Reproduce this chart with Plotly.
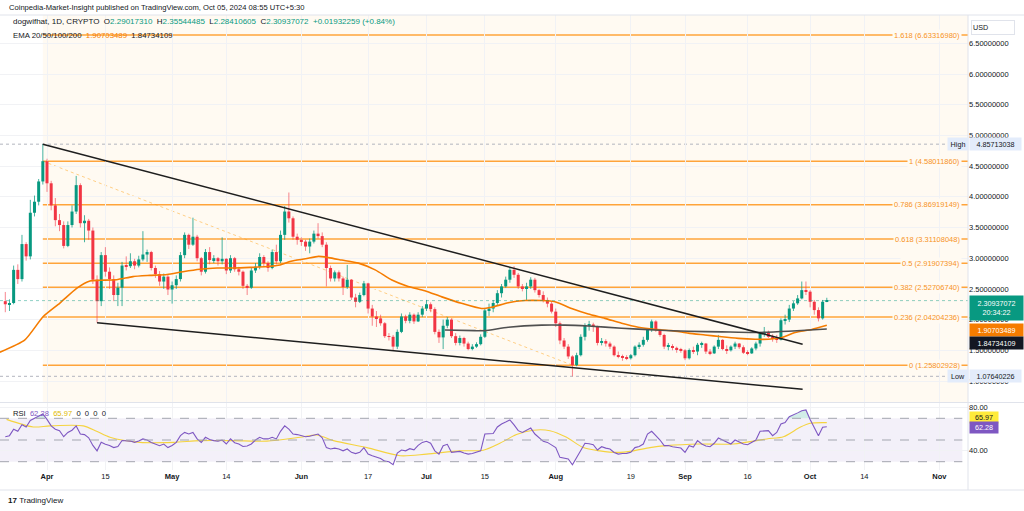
import pandas as pd
import plotly.graph_objects as go

# ---------------- data ----------------
BASE = pd.Timestamp("2024-04-01")
first_day = -10          # first candle = 2024-03-22
first_open = 2.30

closes = [
    2.25, 2.27, 2.81, 2.66, 3.23, 3.03, 3.74, 3.92, 4.25, 4.58,
    4.22, 3.86, 3.62, 3.54, 3.20, 3.54, 3.76, 4.19, 3.57, 3.61,
    3.45, 2.65, 2.30, 3.05, 2.78, 2.66, 2.40, 2.52, 2.88, 2.87,
    2.95, 2.88, 2.98, 3.06, 3.10, 2.84, 2.74, 2.62, 2.70, 2.49,
    2.56, 2.66, 3.05, 3.38, 3.22, 3.35, 3.00, 2.78, 3.10, 2.97,
    3.00, 2.95, 2.99, 2.80, 3.00, 2.82, 2.78, 2.55, 2.52, 2.80,
    2.86, 3.02, 2.92, 2.84, 3.10, 2.95, 3.38, 3.76, 3.65, 3.35,
    3.30, 3.27, 3.19, 3.27, 3.40, 3.36, 3.22, 2.84, 2.67, 2.77,
    2.67, 2.53, 2.65, 2.36, 2.29, 2.40, 2.59, 2.18, 2.05, 2.02,
    1.94, 1.73, 1.72, 1.56, 1.80, 2.05, 1.98, 2.08, 1.97, 2.08,
    2.18, 2.25, 2.17, 1.80, 1.71, 1.90, 2.00, 1.73, 1.62, 1.70,
    1.61, 1.52, 1.56, 1.60, 1.72, 2.15, 2.18, 2.27, 2.43, 2.54,
    2.65, 2.81, 2.73, 2.54, 2.51, 2.54, 2.65, 2.48, 2.40, 2.32,
    2.26, 2.13, 1.94, 1.66, 1.56, 1.40, 1.258, 1.42, 1.72, 1.91,
    1.92, 1.88, 1.62, 1.65, 1.61, 1.56, 1.42, 1.40, 1.39, 1.37,
    1.42, 1.56, 1.59, 1.67, 1.83, 1.97, 1.83, 1.75, 1.56, 1.57,
    1.54, 1.51, 1.50, 1.37, 1.505, 1.48, 1.59, 1.61, 1.48, 1.45,
    1.56, 1.67, 1.52, 1.50, 1.56, 1.61, 1.55, 1.46, 1.45, 1.53,
    1.61, 1.776, 1.80, 1.72, 1.695, 1.67, 1.99, 2.00, 2.18, 2.265,
    2.345, 2.48, 2.455, 2.29, 2.155, 2.02, 2.29017310, 2.30937072,
]
highs = [
    2.45, 2.33, 2.88, 2.90, 3.38, 3.26, 3.95, 4.02, 4.29, 4.85713038,
    4.62, 4.26, 3.98, 3.72, 3.60, 3.60, 3.86, 4.34, 4.22, 3.70,
    3.64, 3.50, 2.72, 3.10, 3.18, 2.85, 2.72, 2.60, 2.94, 3.03,
    3.08, 2.99, 3.04, 3.44, 3.14, 3.12, 2.88, 2.79, 2.75, 2.73,
    2.62, 2.72, 3.10, 3.42, 3.40, 3.66, 3.38, 3.02, 3.15, 3.18,
    3.05, 3.02, 3.34, 3.00, 3.05, 3.02, 2.86, 2.80, 2.58, 2.84,
    2.92, 3.08, 3.05, 2.95, 3.14, 3.22, 3.45, 3.85, 4.07, 3.68,
    3.40, 3.34, 3.30, 3.32, 3.45, 3.57, 3.42, 3.26, 2.88, 2.80,
    2.80, 2.70, 2.89, 2.66, 2.42, 2.44, 2.63, 2.60, 2.24, 2.14,
    2.08, 1.96, 1.78, 1.75, 1.84, 2.10, 2.08, 2.12, 2.10, 2.12,
    2.22, 2.32, 2.28, 2.20, 1.84, 2.00, 2.04, 2.02, 1.78, 1.74,
    1.72, 1.64, 1.60, 1.63, 1.76, 2.18, 2.26, 2.32, 2.48, 2.58,
    2.70, 2.84, 2.87, 2.76, 2.58, 2.60, 2.69, 2.68, 2.50, 2.46,
    2.36, 2.30, 2.18, 1.97, 1.70, 1.60, 1.42, 1.46, 1.76, 1.94,
    1.98, 1.95, 1.90, 1.70, 1.68, 1.64, 1.58, 1.48, 1.43, 1.42,
    1.44, 1.58, 1.63, 1.72, 1.85, 2.00, 1.99, 1.85, 1.77, 1.62,
    1.60, 1.56, 1.54, 1.52, 1.53, 1.56, 1.62, 1.64, 1.62, 1.52,
    1.58, 1.75, 1.68, 1.58, 1.58, 1.64, 1.62, 1.58, 1.50, 1.55,
    1.64, 1.80, 1.88, 1.82, 1.76, 1.75, 2.02, 2.08, 2.24, 2.30,
    2.40, 2.62, 2.62, 2.48, 2.32, 2.20, 2.32, 2.35544485,
]
lows = [
    2.12, 2.14, 2.25, 2.58, 2.62, 2.96, 2.98, 3.68, 3.86, 4.20,
    4.08, 3.78, 3.52, 3.44, 3.16, 3.18, 3.50, 3.72, 3.50, 3.26,
    3.30, 2.58, 1.95, 2.22, 2.70, 2.50, 2.30, 2.22, 2.22, 2.80,
    2.84, 2.82, 2.85, 2.95, 2.94, 2.80, 2.68, 2.55, 2.50, 2.40,
    2.26, 2.50, 2.62, 3.00, 3.15, 3.20, 2.95, 2.72, 2.75, 2.90,
    2.92, 2.88, 2.90, 2.74, 2.76, 2.78, 2.72, 2.50, 2.40, 2.50,
    2.76, 2.82, 2.86, 2.78, 2.82, 2.90, 2.92, 3.30, 3.58, 3.30,
    3.22, 3.20, 3.12, 3.08, 3.24, 3.32, 3.18, 2.54, 2.62, 2.62,
    2.62, 2.40, 2.50, 2.32, 2.20, 2.27, 2.38, 2.10, 1.90, 1.88,
    1.90, 1.70, 1.66, 1.50, 1.52, 1.78, 1.94, 1.94, 1.93, 1.96,
    2.04, 2.14, 2.12, 1.76, 1.62, 1.52, 1.86, 1.70, 1.58, 1.58,
    1.56, 1.50, 1.50, 1.54, 1.58, 1.70, 2.06, 2.12, 2.24, 2.36,
    2.52, 2.60, 2.68, 2.50, 2.46, 2.32, 2.50, 2.44, 2.36, 2.28,
    2.20, 2.10, 1.88, 1.60, 1.52, 1.36, 1.07640226, 1.24, 1.40, 1.66,
    1.82, 1.80, 1.58, 1.58, 1.56, 1.52, 1.40, 1.37, 1.33, 1.34,
    1.35, 1.40, 1.52, 1.56, 1.64, 1.80, 1.80, 1.72, 1.52, 1.50,
    1.50, 1.46, 1.46, 1.34, 1.35, 1.44, 1.42, 1.54, 1.44, 1.42,
    1.44, 1.52, 1.50, 1.44, 1.48, 1.52, 1.52, 1.44, 1.42, 1.44,
    1.50, 1.56, 1.72, 1.70, 1.64, 1.62, 1.66, 1.92, 1.96, 2.14,
    2.24, 2.33, 2.40, 2.20, 2.08, 1.97, 2.00, 2.28410605,
]
rsi = [
    53, 54, 60, 58, 64, 62, 68, 70, 72, 74,
    69, 63, 60, 58.5, 53, 57, 59, 63, 55.5, 55,
    52, 45, 40, 48, 46, 45, 43, 44, 49.5, 49.5,
    49, 47.8, 49, 51, 50, 47.8, 46, 44.8, 46.3, 43,
    45, 47.8, 54, 57, 55.5, 57, 51, 47.8, 52.5, 50.5,
    49.4, 49, 50, 46.3, 51, 47.5, 46.3, 44, 44.5, 46.3,
    50, 52.5, 51, 51, 52.5, 51, 58, 63, 60, 55.5,
    55, 54, 53, 53.5, 54.5, 55.5, 52, 43, 41.7, 42.5,
    41.7, 40, 41.7, 38.6, 37.5, 38.6, 43, 37, 35.5, 34,
    33, 30.5, 30, 27.2, 38, 40.8, 40, 42, 41, 45,
    47.8, 48.8, 47, 40, 37, 44.8, 46, 38.6, 39, 39.5,
    38, 37, 37.5, 38.5, 40, 55.5, 55.7, 56, 62, 64.8,
    66.5, 68.5, 64, 58.6, 57, 59, 61, 55.5, 52, 48.8,
    47.8, 45, 43, 34, 33, 32.5, 27.2, 34, 41, 47,
    46.5, 45.7, 40.8, 43.8, 42.5, 41.7, 38.5, 37, 37.5, 37.7,
    38.6, 43, 44, 46.3, 55.5, 58, 54, 50, 44.8, 45,
    43.8, 43, 42.6, 38.6, 44.8, 43.5, 49.4, 46.3, 44.5, 43.8,
    47, 51.8, 50, 48, 46.3, 50, 48, 46.3, 45.7, 47.8,
    50, 58, 58.3, 58.6, 54, 57, 64.8, 66, 71.5, 73,
    75, 77, 77.7, 69, 62, 54, 61.7, 62.28,
]
# RSI-based MA (read at sample days, day offsets from 2024-04-01)
rsima_days = [-9.7, -3.3, 0.7, 8.7, 11.9, 15.1, 22.3, 30.3, 36.7, 44.7, 52.7, 60.7,
              64.7, 68.7, 76.7, 84.7, 91, 99, 104.6, 108.6, 112.6, 116.6, 120.6,
              124.6, 128.6, 132.6, 136.6, 140.6, 144.6, 148.6, 156.6, 164.6, 172.6,
              176.6, 180.6, 183, 187]
rsima_vals = [69, 62, 63, 63, 58, 52.5, 47.8, 47.8, 49.4, 49.4, 49, 52.5,
              54.6, 49.4, 43, 35.5, 37, 40, 40.6, 47, 55, 59, 58.6,
              52.5, 43, 40, 38.6, 40, 43, 44.8, 46.3, 46.3, 51,
              53, 61.7, 65.4, 65.97]
# EMA lines (read at sample days)
ema_a_days = [-11.3, -5.3, -0.9, 3.1, 7.1, 10.3, 12.7, 16.7, 20.6, 24.7, 28.8, 32.6,
              36.7, 40.8, 44.6, 48.7, 52.8, 55.9, 58.5, 62, 65.1, 67.5, 70.7, 74.7,
              78.7, 82.7, 86.6, 90.6, 94.7, 99.4, 104.2, 106.6, 110.6, 114.6, 118.6,
              121.8, 125.8, 129.8, 133.8, 137.8, 141.8, 145.8, 149.8, 153.8, 157.8,
              161.8, 165.8, 169.8, 173, 176.2, 179.4, 183.4, 187]
ema_a_vals = [1.47, 1.67, 2.05, 2.27, 2.51, 2.63, 2.64, 2.65, 2.70, 2.72, 2.735, 2.78,
              2.82, 2.84, 2.84, 2.85, 2.865, 2.89, 2.95, 2.99, 3.03, 3.01, 2.97, 2.92,
              2.81, 2.645, 2.54, 2.47, 2.37, 2.265, 2.18, 2.20, 2.275, 2.31, 2.31,
              2.29, 2.18, 2.09, 2.02, 1.94, 1.875, 1.84, 1.82, 1.78, 1.75,
              1.72, 1.695, 1.68, 1.68, 1.71, 1.79, 1.84, 1.90703489]
ema_b_days = [95.4, 102.6, 105, 110.6, 118.6, 124.2, 129.8, 137.8, 145.8, 153.8,
              161.8, 169.8, 177.8, 187]
ema_b_vals = [1.83, 1.82, 1.82, 1.875, 1.91, 1.91, 1.895, 1.86, 1.83, 1.81,
              1.80, 1.79, 1.81, 1.84734109]

fib_ratios = ["1.618", "1", "0.786", "0.618", "0.5", "0.382", "0.236", "0"]
fib_prices = [6.63316980, 4.58011860, 3.86919149, 3.31108048, 2.91907394,
              2.52706740, 2.04204236, 1.25802928]
fib_start_day = -1            # Mar 31
fib_trend = [(-1, 4.58011860), (126, 1.25802928)]
channel_upper = [(-1, 4.85713038), (181.2, 1.598)]
channel_lower = [(12, 1.95), (181.2, 0.865)]
high_price, low_price = 4.85713038, 1.07640226
last_close, ema_a_last, ema_b_last = 2.30937072, 1.90703489, 1.84734109
rsi_last, rsima_last = 62.28, 65.97

price_ticks = [1.0, 1.5, 2.0, 2.5, 3.0, 3.5, 4.0, 4.5, 5.0, 5.5, 6.0, 6.5]
date_ticks = ["2024-04-01", "2024-04-15", "2024-05-01", "2024-05-14", "2024-06-01",
              "2024-06-17", "2024-07-01", "2024-07-15", "2024-08-01", "2024-08-19",
              "2024-09-01", "2024-09-16", "2024-10-01", "2024-10-14", "2024-11-01"]
date_labels = ["<b>Apr</b>", "15", "<b>May</b>", "14", "<b>Jun</b>", "17", "<b>Jul</b>",
               "15", "<b>Aug</b>", "19", "<b>Sep</b>", "16", "<b>Oct</b>", "14", "<b>Nov</b>"]

# ---------------- helpers ----------------
def day(d):
    return BASE + pd.Timedelta(days=d)

W_PLOT, TOP, BOT = 968, 15, 470
H_PLOT = BOT - TOP
def px_x(px):
    return px / W_PLOT
def px_y(py):
    return (BOT - py) / H_PLOT

dates = [day(first_day + i) for i in range(len(closes))]
opens = [first_open] + closes[:-1]

FONT = "Liberation Sans"
TXT = "#131722"
GREEN, RED = "#089981", "#f23645"
ORANGE_FIB = "#ffa43a"
EMA_ORANGE = "#f57c00"
CREAM = "#fffaf2"
PURPLE, YELLOW = "#7e57c2", "#f5d33f"

fig = go.Figure()

# candles: wicks + bodies, split by direction
for up, col, wick_col in ((True, GREEN, "rgba(8,153,129,0.75)"), (False, RED, "rgba(242,54,69,0.6)")):
    idx = [i for i in range(len(closes)) if (closes[i] >= opens[i]) == up]
    wx, wy = [], []
    for i in idx:
        wx += [dates[i], dates[i], None]
        wy += [lows[i], highs[i], None]
    fig.add_trace(go.Scatter(x=wx, y=wy, mode="lines", line=dict(color=wick_col, width=1),
                             showlegend=False, hoverinfo="skip", xaxis="x", yaxis="y"))
    fig.add_trace(go.Bar(x=[dates[i] for i in idx],
                         y=[max(abs(closes[i] - opens[i]), 0.012) for i in idx],
                         base=[min(opens[i], closes[i]) for i in idx],
                         width=0.72 * 86400000, marker=dict(color=col, line=dict(width=0)),
                         showlegend=False, hoverinfo="skip", xaxis="x", yaxis="y"))

fig.add_trace(go.Scatter(x=[day(d) for d in ema_a_days], y=ema_a_vals, mode="lines",
                         line=dict(color=EMA_ORANGE, width=1.6, shape="spline", smoothing=0.6),
                         showlegend=False, hoverinfo="skip", xaxis="x", yaxis="y"))
fig.add_trace(go.Scatter(x=[day(d) for d in ema_b_days], y=ema_b_vals, mode="lines",
                         line=dict(color="#505050", width=1.6, shape="spline", smoothing=0.6),
                         showlegend=False, hoverinfo="skip", xaxis="x", yaxis="y"))

# RSI pane
fig.add_trace(go.Scatter(x=dates, y=[70] * len(rsi), mode="lines", line=dict(width=0),
                         showlegend=False, hoverinfo="skip", xaxis="x2", yaxis="y2"))
fig.add_trace(go.Scatter(x=dates, y=[max(v, 70) for v in rsi], mode="lines", line=dict(width=0),
                         fill="tonexty", fillcolor="rgba(8,153,129,0.18)",
                         showlegend=False, hoverinfo="skip", xaxis="x2", yaxis="y2"))
fig.add_trace(go.Scatter(x=[day(d) for d in rsima_days], y=rsima_vals, mode="lines",
                         line=dict(color=YELLOW, width=1.1, shape="spline", smoothing=0.8),
                         showlegend=False, hoverinfo="skip", xaxis="x2", yaxis="y2"))
fig.add_trace(go.Scatter(x=dates, y=rsi, mode="lines", line=dict(color=PURPLE, width=1.1),
                         showlegend=False, hoverinfo="skip", xaxis="x2", yaxis="y2"))

shapes = []
x_left, x_right = day(-11.27), day(220.86)
# fib background
shapes.append(dict(type="rect", xref="x", yref="paper", x0=day(fib_start_day), x1=day(230),
                   y0=px_y(402), y1=1, fillcolor=CREAM, line=dict(width=0), layer="below"))
# RSI band
shapes.append(dict(type="rect", xref="x2", yref="y2", x0=x_left, x1=day(219.5), y0=30, y1=70,
                   fillcolor="rgba(126,87,194,0.09)", line=dict(width=0), layer="below"))
for lv in (70, 50, 30):
    shapes.append(dict(type="line", xref="x2", yref="y2", x0=x_left, x1=day(219.5), y0=lv, y1=lv,
                       line=dict(color="#a3a6af", width=1, dash="dash")))
# fib levels
for p in fib_prices:
    shapes.append(dict(type="line", xref="x", yref="y", x0=day(fib_start_day), x1=day(230),
                       y0=p, y1=p, line=dict(color=ORANGE_FIB, width=1.5), layer="below"))
# fib trend line (dotted)
shapes.append(dict(type="line", xref="x", yref="y", x0=day(fib_trend[0][0]), y0=fib_trend[0][1],
                   x1=day(fib_trend[1][0]), y1=fib_trend[1][1],
                   line=dict(color="rgba(255,152,0,0.45)", width=1, dash="dot"), layer="below"))
# high / low / last price lines
for p in (high_price, low_price):
    shapes.append(dict(type="line", xref="x", yref="y", x0=x_left, x1=day(215.5), y0=p, y1=p,
                       line=dict(color="#b2b5be", width=1, dash="dot"), layer="below"))
shapes.append(dict(type="line", xref="x", yref="y", x0=x_left, x1=x_right, y0=last_close,
                   y1=last_close, line=dict(color="rgba(8,153,129,0.45)", width=1, dash="dot")))
# channel
for ln in (channel_upper, channel_lower):
    shapes.append(dict(type="line", xref="x", yref="y", x0=day(ln[0][0]), y0=ln[0][1],
                       x1=day(ln[1][0]), y1=ln[1][1], line=dict(color="#1e1e1e", width=1.5)))
# pane separators / borders
shapes.append(dict(type="line", xref="paper", yref="paper", x0=0, x1=1.058, y0=px_y(402.5),
                   y1=px_y(402.5), line=dict(color="#e0e3eb", width=1)))
shapes.append(dict(type="line", xref="paper", yref="paper", x0=1, x1=1, y0=px_y(490), y1=1,
                   line=dict(color="#e0e3eb", width=1)))
shapes.append(dict(type="line", xref="paper", yref="paper", x0=0, x1=1.058, y0=1, y1=1,
                   line=dict(color="#e0e3eb", width=1)))
shapes.append(dict(type="line", xref="paper", yref="paper", x0=0, x1=1.058, y0=px_y(490),
                   y1=px_y(490), line=dict(color="#e0e3eb", width=1)))

ann = []
def text(px, py, t, size=7.5, color=TXT, anchor="left", bg=None, **kw):
    d = dict(xref="paper", yref="paper", x=px_x(px), y=px_y(py), text=t, showarrow=False,
             xanchor=anchor, yanchor="middle", font=dict(family=FONT, size=size, color=color))
    if bg:
        d["bgcolor"] = bg
    d.update(kw)
    ann.append(d)

# fib labels
for r, p in zip(fib_ratios, fib_prices):
    ann.append(dict(xref="paper", yref="y", x=px_x(962), y=p, xanchor="right", yanchor="middle",
                    text=f"{r} ({p:.8f})", showarrow=False, bgcolor=CREAM, borderpad=1,
                    font=dict(family=FONT, size=7.5, color="#f7931e")))

# header
text(7, 7, "Coinpedia-Market-Insight published on TradingView.com, Oct 05, 2024 08:55 UTC+5:30", size=7.6)
g = lambda s: f"<span style='color:{GREEN}'>{s}</span>"
text(11, 22, "dogwifhat, 1D, CRYPTO&nbsp;&nbsp;O" + g("2.29017310") + "&nbsp;&nbsp;H" + g("2.35544485")
     + "&nbsp;&nbsp;L" + g("2.28410605") + "&nbsp;&nbsp;C" + g("2.30937072") + "&nbsp;&nbsp;"
     + g("+0.01932259 (+0.84%)"), size=8)
text(11, 36, "EMA 20/50/100/200&nbsp;&nbsp;<span style='color:#f57c00'>1.90703489</span>&nbsp;&nbsp;1.84734109",
     size=7.8)
text(11, 413, "RSI&nbsp;&nbsp;<span style='color:#7e57c2'>62.28</span>&nbsp;&nbsp;"
     "<span style='color:#e0b800'>65.97</span>&nbsp;&nbsp;0&nbsp;&nbsp;0&nbsp;&nbsp;0&nbsp;&nbsp;0", size=7.6)

# right axis boxes
BLUEBOX = "#e3ecfb"
text(971, 27, "USD", size=7.2, bg="white", bordercolor="#e0e3eb", borderwidth=1, width=40,
     align="left", height=11)
text(947, 144.2, "High", size=7.2, bg=BLUEBOX, width=18, height=10)
text(969, 144.2, f"{high_price:.8f}", size=7.2, bg=BLUEBOX, width=49, height=10)
text(947, 376.3, "Low", size=7.2, bg=BLUEBOX, width=18, height=10)
text(969, 376.3, f"{low_price:.8f}", size=7.2, bg=BLUEBOX, width=49, height=10)
text(969, 308.5, f"{last_close:.8f}<br>20:34:22", size=7.2, color="white", bg=GREEN, width=51, height=22)
text(969, 329.5, f"{ema_a_last:.8f}", size=7.2, color="white", bg=EMA_ORANGE, width=51, height=10)
text(969, 342.5, f"{ema_b_last:.8f}", size=7.2, color="white", bg="#131722", width=51, height=10)
text(969, 417, f"{rsima_last:.2f}", size=7.2, color=TXT, bg="#ffeb3b", width=26, height=9)
text(969, 427.5, f"{rsi_last:.2f}", size=7.2, color="white", bg=PURPLE, width=26, height=9)

# TradingView logo
text(6, 500, "<b>17</b>&nbsp;TradingView", size=8, color="#131722")

axis_font = dict(family=FONT, size=7.5, color=TXT)
fig.update_layout(
    width=1024, height=511,
    margin=dict(l=0, r=1024 - W_PLOT, t=TOP, b=511 - BOT),
    paper_bgcolor="white", plot_bgcolor="white",
    showlegend=False, hovermode=False, barmode="overlay",
    shapes=shapes, annotations=ann,
    xaxis=dict(domain=[0, 1], anchor="y", type="date", range=[x_left, x_right],
               showticklabels=False,
               tickvals=date_ticks, showgrid=True, gridcolor="#f1f2f5", zeroline=False),
    xaxis2=dict(domain=[0, 1], anchor="y2", type="date", matches="x", range=[x_left, x_right],
                tickvals=date_ticks, ticktext=date_labels, tickfont=axis_font,
                showgrid=True, gridcolor="#f1f2f5", zeroline=False, ticks=""),
    yaxis=dict(domain=[px_y(402), 1], anchor="x", side="right",
               range=[(442.4 - 402) / 61.4, (442.4 - TOP) / 61.4],
               tickvals=price_ticks, tickformat=".8f", tickfont=axis_font,
               showgrid=True, gridcolor="#f1f2f5", zeroline=False, ticks=""),
    yaxis2=dict(domain=[0, px_y(403)], anchor="x2", side="right",
                range=[50 - (BOT - 440) / 1.085, 50 + (440 - 403) / 1.085],
                tickvals=[40, 80], tickformat=".2f", tickfont=axis_font,
                showgrid=True, gridcolor="#f1f2f5", zeroline=False, ticks=""),
)

fig.write_html("out.html", config={"displayModeBar": False},
               post_script="document.body.style.margin='0';document.body.style.overflow='hidden';")
